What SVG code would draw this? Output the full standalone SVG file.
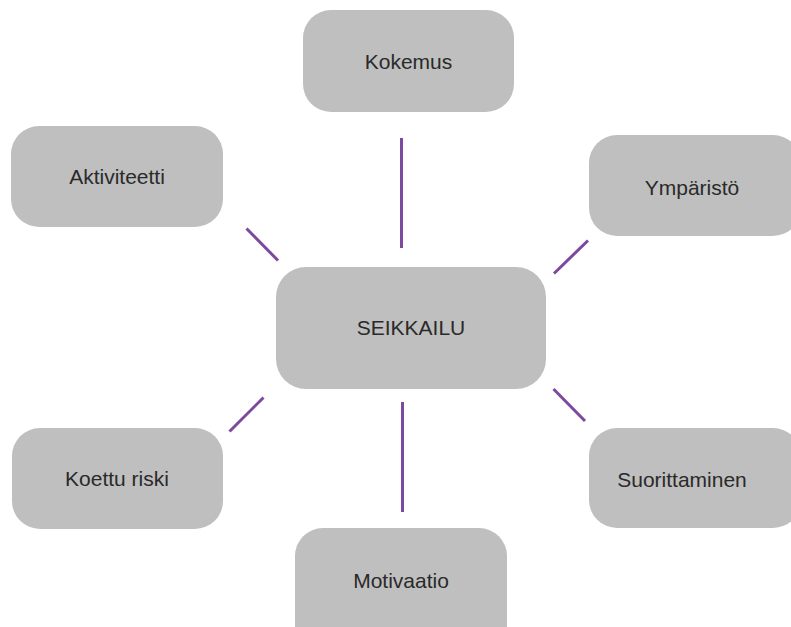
<svg xmlns="http://www.w3.org/2000/svg" width="791" height="627" viewBox="0 0 791 627">
<style>
.node{fill:#bfbfbf;}
.lbl{font-family:"Liberation Sans",Arial,sans-serif;font-size:21px;fill:#2a2a2a;text-anchor:middle;dominant-baseline:central;}
.con{stroke:#7b4a9e;stroke-width:3;stroke-linecap:butt;fill:none;}
</style>
<rect width="791" height="627" fill="#ffffff"/>
<g id="connectors">
<line class="con" x1="401.5" y1="138" x2="401.5" y2="248"/>
<line class="con" x1="402.5" y1="402" x2="402.5" y2="512"/>
<line class="con" x1="246.5" y1="228.5" x2="278" y2="260.5"/>
<line class="con" x1="588" y1="240.5" x2="554" y2="273.5"/>
<line class="con" x1="229.5" y1="431.5" x2="263.5" y2="397.5"/>
<line class="con" x1="553.5" y1="389" x2="585" y2="421"/>
</g>
<g id="kokemus"><rect class="node" x="303" y="10" width="211" height="102" rx="28"/><text class="lbl" x="408.5" y="61">Kokemus</text></g>
<g id="aktiviteetti"><rect class="node" x="11" y="126" width="212" height="101" rx="28"/><text class="lbl" x="117" y="176">Aktiviteetti</text></g>
<g id="ymparisto"><rect class="node" x="589" y="135" width="212" height="101" rx="28"/><text class="lbl" x="692" y="187">Ympäristö</text></g>
<g id="seikkailu"><rect class="node" x="276" y="267" width="270" height="122" rx="30"/><text class="lbl" x="411" y="327">SEIKKAILU</text></g>
<g id="koettu-riski"><rect class="node" x="12" y="428" width="211" height="101" rx="28"/><text class="lbl" x="117" y="478">Koettu riski</text></g>
<g id="suorittaminen"><rect class="node" x="589" y="428" width="212" height="100" rx="28"/><text class="lbl" x="682" y="479">Suorittaminen</text></g>
<g id="motivaatio"><rect class="node" x="295" y="528" width="212" height="130" rx="28"/><text class="lbl" x="401" y="580">Motivaatio</text></g>
</svg>
